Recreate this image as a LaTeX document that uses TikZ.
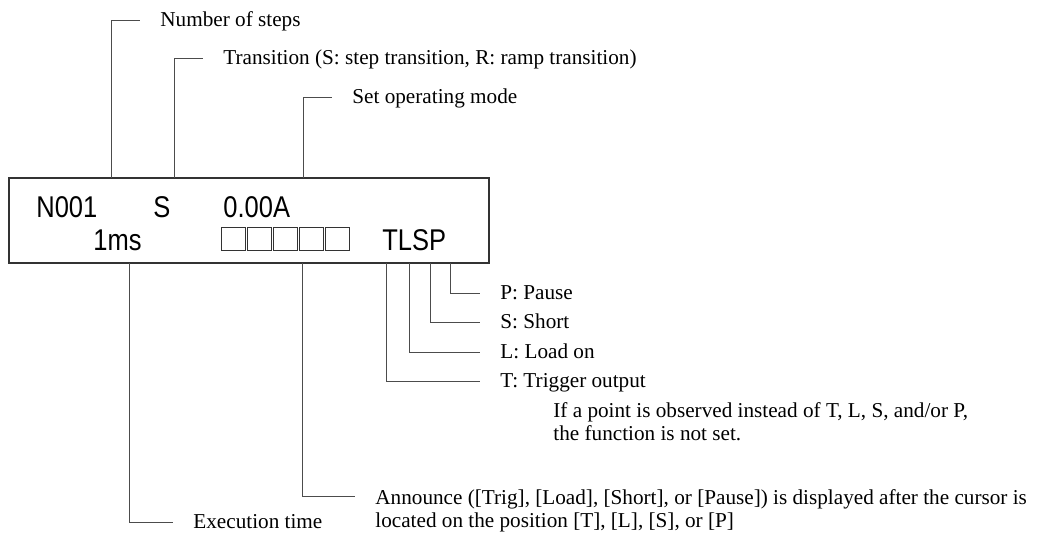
\documentclass[tikz,border=0pt]{standalone}
\usepackage{fontspec}
\setmainfont{Liberation Serif}
\newfontfamily\lcdfont[FakeStretch=0.85]{Liberation Sans}
\usetikzlibrary{positioning}
\tikzset{
  lead/.style={draw=black!70, line width=0.5pt},
  lbl/.style={anchor=west, inner xsep=10pt, inner ysep=0pt, text height=0.66em, text depth=0pt,
    font=\fontsize{10.6}{11.8}\selectfont},
  para/.style={anchor=north west, inner xsep=10pt, inner ysep=0pt, align=left,
    font=\fontsize{10.6}{11.8}\selectfont},
  lcd/.style={anchor=base west, inner sep=0pt, font=\lcdfont\fontsize{15}{18}\selectfont},
  cell/.style={draw=black!80, line width=0.5pt},
}

\begin{document}
\begin{tikzpicture}[x=0.5pt,y=-0.5pt]
  \useasboundingbox (0,0) rectangle (1040,536);
  % display panel
  \node[draw=black!80, line width=0.6pt, minimum width=240pt, minimum height=42.5pt, inner sep=0pt] (disp) at (249,220.5) {};
  \node[lcd] (stepno) at (36,217) {N001};
  \node[lcd] (transtype) at (153,217) {S};
  \node[lcd] (setval) at (223,217) {0.00A};
  \node[lcd] (exectime) at (93,250) {1ms};
  \node[lcd] (flags) at (382,250) {TLSP};
  \foreach \i in {0,...,4}
    \draw[cell] (221+26*\i,227) rectangle ++(24,23);

  % points on the panel edge
  \coordinate (psteps) at (111,178);
  \coordinate (ptrans) at (174,178);
  \coordinate (pmode) at (303,178);
  \coordinate (pexec) at (129,263);
  \coordinate (pann) at (302,263);
  \coordinate (pT) at (386,263);
  \coordinate (pL) at (409,263);
  \coordinate (pS) at (430,263);
  \coordinate (pP) at (450,263);

  % labels above
  \node[lbl] (steps) at (140,20) {Number of steps};
  \node[lbl] (trans) at (203,58) {Transition (S: step transition, R: ramp transition)};
  \node[lbl] (mode) at (332,97) {Set operating mode};
  \draw[lead] (psteps) |- (steps.west);
  \draw[lead] (ptrans) |- (trans.west);
  \draw[lead] (pmode) |- (mode.west);

  % flag labels
  \node[lbl] (pause) at (480,293) {P: Pause};
  \node[lbl] (short) at (480,322) {S: Short};
  \node[lbl] (load) at (480,352) {L: Load on};
  \node[lbl] (trig) at (480,381) {T: Trigger output};
  \draw[lead] (pP) |- (pause.west);
  \draw[lead] (pS) |- (short.west);
  \draw[lead] (pL) |- (load.west);
  \draw[lead] (pT) |- (trig.west);
  \node[para] (note) at (533,402) {If a point is observed instead of T, L, S, and/or P,\\the function is not set.};

  % labels below
  \node[lbl] (exec) at (173,522) {Execution time};
  \node[para] (ann) at (355,489) {Announce ([Trig], [Load], [Short], or [Pause]) is displayed after the cursor is\\located on the position [T], [L], [S], or [P]};
  \draw[lead] (pexec) |- (exec.west);
  \draw[lead] (pann) |- ([yshift=-3.7pt]ann.north west);
\end{tikzpicture}
\end{document}
